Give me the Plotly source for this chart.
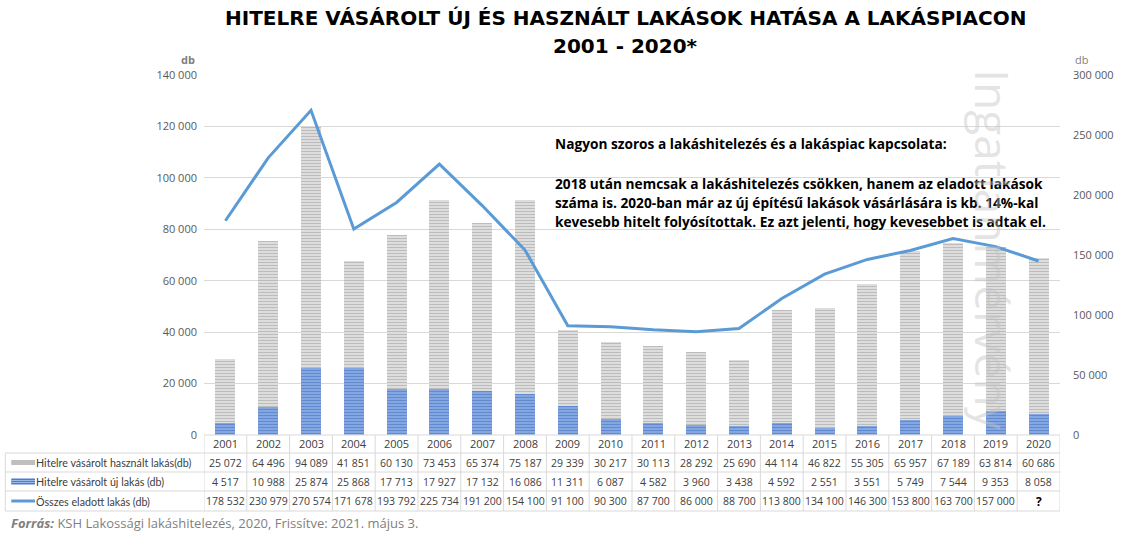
import plotly.graph_objects as go

years = list(range(2001, 2021))
used_loans = [25072, 64496, 94089, 41851, 60130, 73453, 65374, 75187, 29339, 30217,
              30113, 28292, 25690, 44114, 46822, 55305, 65957, 67189, 63814, 60686]
new_loans = [4517, 10988, 25874, 25868, 17713, 17927, 17132, 16086, 11311, 6087,
             4582, 3960, 3438, 4592, 2551, 3551, 5749, 7544, 9353, 8058]
# last point estimated from the chart (table shows "?")
total_sold = [178532, 230979, 270574, 171678, 193792, 225734, 191200, 154100, 91100, 90300,
              87700, 86000, 88700, 113800, 134100, 146300, 153800, 163700, 157000, 145000]
total_known = [True] * 19 + [False]

series_names = ["Hitelre vásárolt használt lakás(db)",
                "Hitelre vásárolt új lakás (db)",
                "Összes eladott lakás (db)"]
title_lines = ["HITELRE VÁSÁROLT ÚJ ÉS HASZNÁLT LAKÁSOK HATÁSA A LAKÁSPIACON", "2001 - 2020*"]
note_lines = ["Nagyon szoros a lakáshitelezés és a lakáspiac kapcsolata:",
              "2018 után nemcsak a lakáshitelezés csökken, hanem az eladott lakások",
              "száma is. 2020-ban már az új építésű lakások vásárlására is kb. 14%-kal",
              "kevesebb hitelt folyósítottak. Ez azt jelenti, hogy kevesebbet is adtak el."]

W, H = 1126, 538
L, R, T, B = 204, 1070, 75, 435
PW, PH = R - L, B - T


def px(x):
    return (x - L) / PW


def py(y):
    return (B - y) / PH


def fmt(v):
    return f"{v:,}".replace(",", " ")


GRAY_TXT = "#404040"
FONT = "Open Sans"
LINE_BLUE = "#5b9bd5"
GRID = "#d9d9d9"

fig = go.Figure()
fig.add_trace(go.Bar(
    x=years, y=new_loans, name=series_names[1], width=0.47,
    marker=dict(color="#8fb0e6", line=dict(width=0),
                pattern=dict(shape="-", fgcolor="#2f5fb8", bgcolor="#94b4e8", size=3, solidity=0.55)),
))
fig.add_trace(go.Bar(
    x=years, y=used_loans, name=series_names[0], width=0.47,
    marker=dict(color="#e6e6e6", line=dict(width=0),
                pattern=dict(shape="-", fgcolor="#8c8c8c", bgcolor="#ececec", size=3, solidity=0.55)),
))
fig.add_trace(go.Scatter(
    x=years, y=total_sold, name=series_names[2], mode="lines", yaxis="y2",
    line=dict(color=LINE_BLUE, width=3),
))

annotations = []
shapes = []

# title
for i, t in enumerate(title_lines):
    annotations.append(dict(text=f"<b>{t}</b>", xref="paper", yref="paper",
                            x=px(630), y=py(18 + 28 * i), xanchor="center", yanchor="middle",
                            showarrow=False, font=dict(family="DejaVu Sans", size=20, color="#000000")))

# axis unit labels
annotations.append(dict(text="db", xref="paper", yref="paper", x=px(197), y=py(60),
                        xanchor="right", yanchor="middle", showarrow=False,
                        font=dict(family=FONT, size=11, color="#7f7f7f", weight="bold")))
annotations.append(dict(text="db", xref="paper", yref="paper", x=px(1083), y=py(60),
                        xanchor="left", yanchor="middle", showarrow=False,
                        font=dict(family=FONT, size=11, color="#7f7f7f")))

# note text
note_y = [143, 183, 202, 221]
for t, yy in zip(note_lines, note_y):
    annotations.append(dict(text=f"<b>{t}</b>", xref="paper", yref="paper", x=px(557), y=py(yy),
                            xanchor="left", yanchor="middle", showarrow=False,
                            font=dict(family=FONT, size=13.7, color="#000000")))

# watermark
annotations.append(dict(text="Ingatlanmérvény", xref="paper", yref="paper", x=px(1002), y=py(250),
                        xanchor="center", yanchor="middle", textangle=90, showarrow=False,
                        font=dict(family=FONT, size=46, color="rgba(195,195,195,0.45)")))

# data table
row_y = [444, 462.5, 481.5, 501]
row_lines = [435, 453, 472, 491, 511]
for yr in years:
    annotations.append(dict(text=str(yr), xref="x", yref="paper", x=yr, y=py(row_y[0]),
                            xanchor="center", yanchor="middle", showarrow=False,
                            font=dict(family=FONT, size=11, color=GRAY_TXT)))
for yr, u, n, tot, known in zip(years, used_loans, new_loans, total_sold, total_known):
    for val, yy in ((fmt(u), row_y[1]), (fmt(n), row_y[2])):
        annotations.append(dict(text=val, xref="x", yref="paper", x=yr, y=py(yy),
                                xanchor="center", yanchor="middle", showarrow=False,
                                font=dict(family=FONT, size=10.5, color=GRAY_TXT)))
    annotations.append(dict(text=fmt(tot) if known else "<b>?</b>", xref="x", yref="paper", x=yr,
                            y=py(row_y[3]), xanchor="center", yanchor="middle", showarrow=False,
                            font=dict(family=FONT, size=10.5 if known else 12,
                                      color=GRAY_TXT if known else "#000000")))

for name, yy in zip(series_names, row_y[1:]):
    annotations.append(dict(text=name, xref="paper", yref="paper", x=px(32), y=py(yy),
                            xanchor="left", yanchor="middle", showarrow=False,
                            font=dict(family="Lato", size=10.7, color=GRAY_TXT)))

# legend keys in the table
shapes.append(dict(type="rect", xref="paper", yref="paper", x0=px(9), x1=px(33),
                   y0=py(row_y[1] - 2.5), y1=py(row_y[1] + 2.5), fillcolor="#bfbfbf",
                   line=dict(width=0)))
shapes.append(dict(type="rect", xref="paper", yref="paper", x0=px(9), x1=px(33),
                   y0=py(row_y[2] - 3), y1=py(row_y[2] + 3), fillcolor="#4a7bd0",
                   line=dict(width=0)))
for d in (-1, 1):
    shapes.append(dict(type="line", xref="paper", yref="paper", x0=px(9), x1=px(33),
                       y0=py(row_y[2] + d), y1=py(row_y[2] + d), line=dict(color="#9dbbe8", width=1)))
shapes.append(dict(type="line", xref="paper", yref="paper", x0=px(9), x1=px(33),
                   y0=py(row_y[3]), y1=py(row_y[3]), line=dict(color=LINE_BLUE, width=3)))

# table grid
shapes.append(dict(type="line", xref="paper", yref="paper", x0=0, x1=1, y0=py(row_lines[0]),
                   y1=py(row_lines[0]), line=dict(color=GRID, width=1)))
for yy in row_lines[1:]:
    shapes.append(dict(type="line", xref="paper", yref="paper", x0=px(3), x1=1, y0=py(yy),
                       y1=py(yy), line=dict(color=GRID, width=1)))
shapes.append(dict(type="line", xref="paper", yref="paper", x0=px(3), x1=px(3),
                   y0=py(row_lines[1]), y1=py(row_lines[-1]), line=dict(color=GRID, width=1)))
for yr in years + [years[-1] + 1]:
    shapes.append(dict(type="line", xref="x", yref="paper", x0=yr - 0.5, x1=yr - 0.5,
                       y0=py(row_lines[0]), y1=py(row_lines[-1]), line=dict(color=GRID, width=1)))

# source
annotations.append(dict(text="<b><i>Forrás:</i></b> KSH Lakossági lakáshitelezés, 2020, Frissítve: 2021. május 3.",
                        xref="paper", yref="paper", x=px(7), y=py(523), xanchor="left",
                        yanchor="middle", showarrow=False,
                        font=dict(family=FONT, size=13, color="#7f7f7f")))

fig.update_layout(
    width=W, height=H,
    margin=dict(l=L, r=W - R, t=T, b=H - B, pad=0),
    paper_bgcolor="white", plot_bgcolor="white",
    barmode="stack", showlegend=False, separators=", ",
    xaxis=dict(range=[years[0] - 0.5, years[-1] + 0.5], showticklabels=False, showgrid=False,
               zeroline=False, showline=False, ticks=""),
    yaxis=dict(range=[0, 140000], dtick=20000, tickformat=",d", showgrid=True, gridcolor=GRID,
               zeroline=False, showline=False, ticklabelstandoff=6,
               tickfont=dict(family=FONT, size=11, color="#595959")),
    yaxis2=dict(range=[0, 300000], dtick=50000, tickformat=",d", overlaying="y", side="right",
                showgrid=False, zeroline=False, showline=False, ticklabelstandoff=12,
                tickfont=dict(family=FONT, size=11, color="#595959")),
    annotations=annotations, shapes=shapes,
)

fig.write_html("out.html")
